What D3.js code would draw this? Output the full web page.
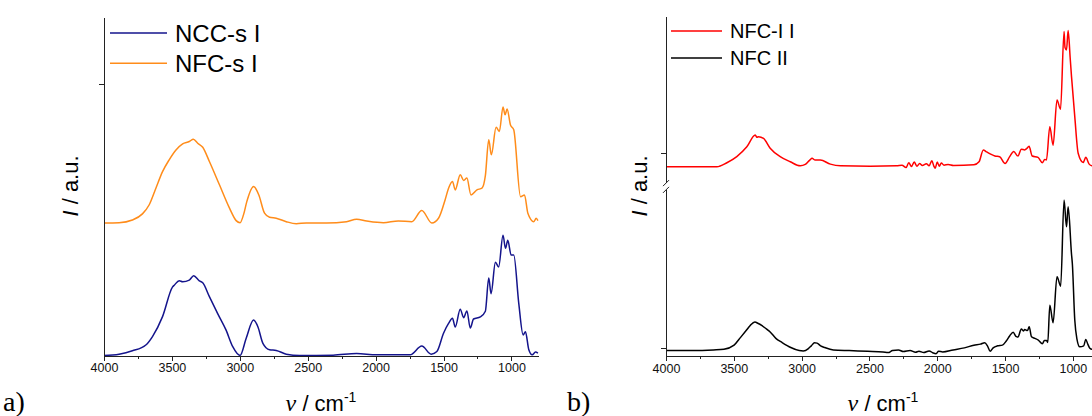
<!DOCTYPE html>
<html>
<head>
<meta charset="utf-8">
<script src="https://cdn.jsdelivr.net/npm/d3@7"></script>
<style>
body { margin: 0; background: #fff; overflow: hidden; }
svg { display: block; }
.axis path, .axis line { stroke: #222; stroke-width: 1; shape-rendering: crispEdges; }
.axis text { font-family: "Liberation Sans", Arial, sans-serif; font-size: 12.5px; fill: #111; }
.legendText { font-family: "Liberation Sans", Arial, sans-serif; fill: #000; }
.axisTitle { font-family: "Liberation Sans", Arial, sans-serif; font-size: 22px; fill: #000; }
.panelLabel { font-family: "Liberation Serif", "Times New Roman", serif; font-size: 28px; fill: #000; }
.curve { fill: none; stroke-width: 1.5; stroke-linejoin: round; }
</style>
</head>
<body>
<div id="chart"></div>
<script>
// [wavenumber cm-1, intensity a.u.]
var nccS = [[4000,0],[3889,0.4],[3791,1.4],[3692,3.1],[3643,5.6],[3569,11.5],[3495,20.3],[3483,20.8],[3446,22.1],
  [3421,21.8],[3372,22.3],[3340,23.6],[3298,22.1],[3273,21.5],[3224,17.4],[3163,12.4],[3101,7.5],[3052,2.6],[2998,0],
  [2953,5.1],[2899,10.5],[2867,8.5],[2830,3.6],[2781,1.7],[2732,1.5],[2658,0.4],[2559,0],[2313,0.1],[2140,0.6],
  [1993,0.2],[1746,0.2],[1660,2.8],[1591,0.4],[1549,1.2],[1500,6.6],[1463,9.5],[1434,11.0],[1414,8.4],[1377,13.7],
  [1352,11.2],[1328,13.2],[1303,8.1],[1279,10.8],[1229,11.4],[1192,13.1],[1167,22.9],[1150,18.3],[1118,27.6],
  [1094,26.2],[1062,35.6],[1044,31.7],[1027,34.1],[1002,29.7],[983,29.7],[946,15.4],[914,6.1],[897,7.0],[872,1.7],
  [847,0.2],[823,1.0],[805,0.7]];

var nfcS = [[4000,39.2],[3889,39.3],[3791,40.1],[3717,41.9],[3667,44.6],[3618,49.5],[3569,54.4],[3520,57.9],
  [3470,60.8],[3421,62.6],[3372,63.3],[3342,64.0],[3310,62.8],[3273,61.6],[3224,57.4],[3150,50.5],[3076,43.6],
  [3027,39.9],[2998,39.3],[2973,41.6],[2948,45.6],[2899,50.0],[2860,47.5],[2818,42.1],[2781,40.9],[2732,40.6],
  [2658,39.6],[2584,39.0],[2510,39.2],[2362,39.2],[2214,39.6],[2140,40.3],[2066,39.8],[1943,39.3],[1833,39.8],
  [1734,39.6],[1660,42.9],[1586,39.2],[1537,40.6],[1488,46.1],[1463,49.5],[1434,51.5],[1414,49.0],[1377,53.5],
  [1352,51.8],[1328,52.5],[1298,47.5],[1254,49.0],[1217,49.5],[1192,53.2],[1167,63.8],[1148,59.4],[1113,67.5],
  [1089,66.3],[1062,73.5],[1047,71.2],[1032,72.9],[1007,68.2],[983,66.8],[933,47.0],[904,47.5],[879,42.1],
  [835,39.6],[818,40.6],[805,39.9]];

var nfcI = [[4000,55.8],[3800,55.8],[3625,55.8],[3551,57.0],[3478,58.8],[3404,61.7],[3342,65.2],[3330,64.5],
  [3318,64.7],[3281,64.2],[3232,61.3],[3158,58.8],[3084,57.3],[3010,56.1],[2973,56.5],[2940,57.8],[2923,58.3],
  [2900,57.8],[2862,57.8],[2788,56.6],[2714,56.1],[2493,56.0],[2300,56.1],[2260,56.3],[2230,55.6],[2210,57.0],
  [2190,55.9],[2170,57.2],[2150,56.0],[2130,56.8],[2110,56.2],[2080,56.7],[2060,56.1],[2040,57.6],[2025,56.0],
  [2015,55.4],[2000,57.2],[1985,56.0],[1970,56.9],[1950,56.3],[1920,56.5],[1880,56.2],[1730,56.4],[1692,57.3],
  [1660,60.8],[1640,60.3],[1610,59.6],[1575,59.0],[1540,58.8],[1500,56.8],[1466,58.8],[1436,60.3],[1405,59.0],
  [1380,61.0],[1355,60.8],[1340,61.2],[1323,61.9],[1300,59.0],[1257,58.6],[1224,57.0],[1208,58.0],[1195,57.8],
  [1170,67.6],[1146,62.2],[1117,75.5],[1091,72.8],[1065,95.7],[1058,91.0],[1047,90.3],[1035,96.0],[1020,88.0],
  [1010,82.4],[986,70.6],[961,59.8],[924,57.1],[905,58.6],[880,56.6],[860,56.1],[820,56.0]];

var nfcII = [[4000,1.6],[3800,1.6],[3650,1.8],[3573,2.0],[3498,3.2],[3450,5.5],[3409,7.5],[3379,9.0],[3345,10.0],
  [3320,9.6],[3305,9.3],[3260,8.0],[3232,7.1],[3190,5.2],[3145,4.0],[3080,2.5],[3018,1.6],[2988,1.5],[2950,2.2],
  [2929,3.0],[2905,3.9],[2886,3.8],[2860,3.0],[2829,2.5],[2766,1.8],[2650,1.6],[2513,1.4],[2400,1.2],[2362,1.0],
  [2330,1.6],[2286,1.8],[2250,1.3],[2200,1.6],[2160,1.1],[2135,1.4],[2100,1.0],[2060,1.5],[2030,0.9],[2009,0.7],
  [1990,1.4],[1960,1.2],[1883,1.8],[1800,2.4],[1730,3.2],[1681,3.5],[1650,3.9],[1630,3.0],[1610,1.4],[1588,2.4],
  [1555,3.0],[1520,3.2],[1490,4.5],[1465,6.0],[1440,7.0],[1420,5.8],[1405,5.6],[1380,8.0],[1365,7.4],[1355,7.8],
  [1335,7.5],[1322,8.6],[1305,5.7],[1280,5.2],[1255,4.7],[1225,3.6],[1210,4.6],[1195,4.6],[1185,4.0],[1170,15.0],
  [1146,9.8],[1117,23.4],[1090,20.6],[1065,46.0],[1047,38.1],[1035,44.0],[1010,30.0],[1004,27.3],[986,10.6],
  [970,5.0],[949,2.7],[920,3.0],[905,4.9],[890,3.5],[875,2.3],[860,2.0],[820,2.0]];

var majorTicks = [4000, 3500, 3000, 2500, 2000, 1500, 1000];
var minorTicks = [3750, 3250, 2750, 2250, 1750, 1250];
var leftYTicks = [80.3];
var rightYTicks = [2.3, 59.8];
var yBreak = [49, 51];

var legendA = ["NCC-s I", "NFC-s I"];
var legendB = ["NFC-I I", "NFC II"];
var colorsA = ["#14148c", "#ff8c1a"];
var colorsB = ["#ff0000", "#000000"];

var width = 1092, height = 416;

var svg = d3.select("#chart").append("svg")
  .attr("width", width)
  .attr("height", height);

//scales
var xA = d3.scaleLinear().domain([4000, 800]).range([104, 538.6]);
var yA = d3.scaleLinear().domain([0, 100]).range([355.5, 17.5]);
var xB = d3.scaleLinear().domain([4000, 800]).range([666, 1100]);
var yB = d3.scaleLinear().domain([0, 100]).range([356, 17]);

function drawXAxis(x, y0) {
  svg.append("g")
    .attr("class", "axis")
    .attr("transform", "translate(0," + y0 + ")")
    .call(d3.axisBottom(x).tickValues(majorTicks).tickSize(5).tickSizeOuter(0).tickPadding(3).tickFormat(d3.format("d")));
  svg.append("g")
    .attr("class", "axis")
    .attr("transform", "translate(0," + y0 + ")")
    .call(d3.axisBottom(x).tickValues(minorTicks).tickSize(3).tickSizeOuter(0).tickFormat(""))
    .select(".domain").remove();
}

function drawCurve(data, x, y, color) {
  var line = d3.line()
    .x(function(d) { return x(d[0]); })
    .y(function(d) { return y(d[1]); })
    .curve(d3.curveMonotoneX);
  svg.append("path")
    .datum(data)
    .attr("class", "curve")
    .attr("stroke", color)
    .attr("d", line);
}

function drawLegend(names, colors, x1, x2, ys, size) {
  names.forEach(function(name, i) {
    svg.append("line")
      .attr("x1", x1).attr("x2", x2)
      .attr("y1", ys[i]).attr("y2", ys[i])
      .attr("stroke", colors[i])
      .attr("stroke-width", 1.5);
    svg.append("text")
      .attr("class", "legendText")
      .attr("x", x2 + 8)
      .attr("y", ys[i] + size * 0.36)
      .style("font-size", size + "px")
      .text(name);
  });
}

function drawXTitle(cx, y0) {
  var t = svg.append("text")
    .attr("class", "axisTitle")
    .attr("x", cx)
    .attr("y", y0)
    .attr("text-anchor", "middle");
  t.append("tspan")
    .style("font-family", "'Liberation Serif', 'Times New Roman', serif")
    .style("font-style", "italic")
    .style("font-size", "24px")
    .text("\u03bd");
  t.append("tspan").text(" / cm");
  t.append("tspan")
    .attr("dy", -9)
    .style("font-size", "14px")
    .text("-1");
}

function drawYTitle(x0, cy) {
  var t = svg.append("text")
    .attr("class", "axisTitle")
    .attr("transform", "translate(" + x0 + "," + cy + ") rotate(-90)")
    .attr("text-anchor", "middle");
  t.append("tspan").style("font-style", "italic").text("I");
  t.append("tspan").text(" / a.u.");
}

/////////////////////////// panel a ///////////////////////////
drawCurve(nccS, xA, yA, colorsA[0]);
drawCurve(nfcS, xA, yA, colorsA[1]);
drawXAxis(xA, 355.5);

svg.append("g")
  .attr("class", "axis")
  .attr("transform", "translate(" + xA(4000) + ",0)")
  .call(d3.axisLeft(yA).tickValues(leftYTicks).tickSize(5).tickSizeOuter(0).tickFormat(""));

drawLegend(legendA, colorsA, 110, 167, [33, 63.3], 24);
drawXTitle(321, 411);
drawYTitle(78, 186);

svg.append("text")
  .attr("class", "panelLabel")
  .attr("x", 3)
  .attr("y", 411)
  .text("a)");

/////////////////////////// panel b ///////////////////////////
drawCurve(nfcI, xB, yB, colorsB[0]);
drawCurve(nfcII, xB, yB, colorsB[1]);
drawXAxis(xB, 356);

//broken y axis
var axB = svg.append("g").attr("class", "axis");
var xb0 = xB(4000);
axB.append("line")
  .attr("x1", xb0).attr("x2", xb0)
  .attr("y1", yB(100)).attr("y2", yB(yBreak[1]));
axB.append("line")
  .attr("x1", xb0).attr("x2", xb0)
  .attr("y1", yB(yBreak[0])).attr("y2", yB(0));
[yB(yBreak[1]) , yB(yBreak[0])].forEach(function(yy) {
  axB.append("line")
    .attr("x1", xb0 - 3).attr("x2", xb0 + 3)
    .attr("y1", yy + 3).attr("y2", yy - 3)
    .style("shape-rendering", "auto");
});
axB.selectAll(".ytick")
  .data(rightYTicks)
  .enter().append("line")
  .attr("class", "ytick")
  .attr("x1", xb0 - 5).attr("x2", xb0)
  .attr("y1", function(d) { return yB(d); })
  .attr("y2", function(d) { return yB(d); });

drawLegend(legendB, colorsB, 671, 722, [31, 58], 20);
drawXTitle(883, 411);
drawYTitle(647, 186);

svg.append("text")
  .attr("class", "panelLabel")
  .attr("x", 567)
  .attr("y", 411)
  .text("b)");
</script>
</body>
</html>
